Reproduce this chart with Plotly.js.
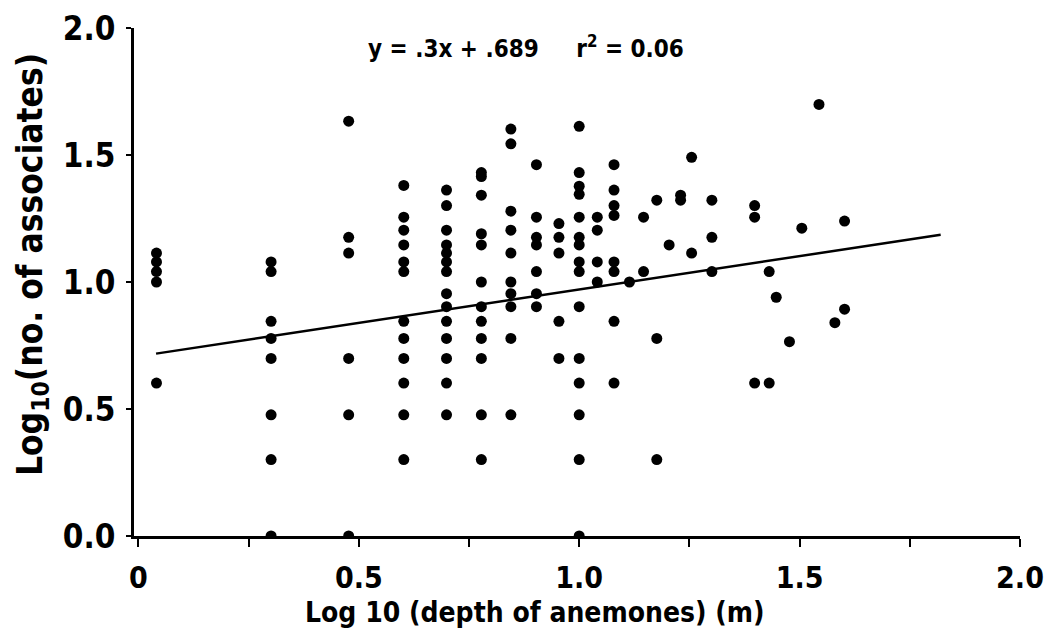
<!DOCTYPE html>
<html>
<head>
<meta charset="utf-8">
<script src="https://cdn.plot.ly/plotly-3.0.1.min.js"></script>
<style>html,body{margin:0;padding:0;background:#fff;}#chart{width:1052px;height:633px;}</style>
</head>
<body>
<div id="chart"></div>
<script>
// Log10 depth of anemones (m) — one entry per column of points
const depthLog = [0.041, 0.301, 0.477, 0.602, 0.699, 0.778, 0.845, 0.903, 0.954, 1.0,
                  1.041, 1.079, 1.114, 1.146, 1.176, 1.204, 1.230, 1.255, 1.301, 1.398,
                  1.431, 1.447, 1.477, 1.505, 1.544, 1.580, 1.602];
// Log10 number of associates for each depth column
const assocLog = [
  [1.114, 1.079, 1.041, 1.0, 0.602],
  [1.079, 1.041, 0.845, 0.778, 0.699, 0.477, 0.301, 0],
  [1.633, 1.176, 1.114, 0.699, 0.477, 0],
  [1.380, 1.255, 1.204, 1.146, 1.079, 1.041, 0.845, 0.778, 0.699, 0.602, 0.477, 0.301],
  [1.362, 1.301, 1.204, 1.146, 1.114, 1.079, 1.041, 0.954, 0.903, 0.845, 0.778, 0.699, 0.602, 0.477],
  [1.431, 1.415, 1.342, 1.190, 1.146, 1.0, 0.903, 0.845, 0.778, 0.699, 0.477, 0.301],
  [1.602, 1.544, 1.279, 1.204, 1.114, 1.0, 0.954, 0.903, 0.778, 0.477],
  [1.462, 1.255, 1.176, 1.146, 1.041, 0.954, 0.903],
  [1.230, 1.176, 1.114, 0.845, 0.699],
  [1.613, 1.431, 1.377, 1.345, 1.255, 1.176, 1.146, 1.079, 1.041, 0.903, 0.699, 0.602, 0.477, 0.301, 0],
  [1.255, 1.204, 1.079, 1.0],
  [1.462, 1.362, 1.301, 1.262, 1.079, 1.041, 0.845, 0.602],
  [1.0],
  [1.255, 1.041],
  [1.322, 0.778, 0.301],
  [1.146],
  [1.342, 1.322],
  [1.491, 1.114],
  [1.322, 1.176, 1.041],
  [1.301, 1.255, 0.602],
  [1.041, 0.602],
  [0.940],
  [0.765],
  [1.212],
  [1.699],
  [0.840],
  [1.240, 0.893]
];
// Fitted line end points as drawn
const fitX = [0.04, 1.82];
const fitY = [0.718, 1.186];
const xTickVals = [0, 0.5, 1.0, 1.5, 2.0];
const xTickText = ['0', '0.5', '1.0', '1.5', '2.0'];
const xMinorVals = [0.25, 0.75, 1.25, 1.75];
const yTickVals = [0, 0.5, 1.0, 1.5, 2.0];
const yTickText = ['0.0', '0.5', '1.0', '1.5', '2.0'];
const equationText = 'y = .3x + .689     r<sup>2</sup> = 0.06';
const xTitle = 'Log 10 (depth of anemones) (m)';
const yTitle = 'Log<sub>10</sub>(no. of associates)';

const px = [], py = [];
depthLog.forEach((d, i) => assocLog[i].forEach(v => { px.push(d); py.push(v); }));

const FAM = '"DejaVu Sans Condensed", "DejaVu Sans", sans-serif';

const traces = [
  {x: px, y: py, type: 'scatter', mode: 'markers',
   marker: {color: '#000', size: 11}, hoverinfo: 'x+y', showlegend: false},
  {x: fitX, y: fitY, type: 'scatter', mode: 'lines',
   line: {color: '#000', width: 2.5}, showlegend: false}
];

const layout = {
  width: 1052, height: 633,
  paper_bgcolor: '#fff', plot_bgcolor: '#fff',
  margin: {l: 134, r: 32, t: 28, b: 97},
  font: {family: FAM, color: '#000', weight: 'bold'},
  xaxis: {range: [-0.01, 2.0], showgrid: false, zeroline: false,
          showline: true, linecolor: '#000', linewidth: 3,
          ticks: 'outside', ticklen: 8, tickwidth: 2, tickcolor: '#000',
          tickvals: xTickVals, ticktext: xTickText, ticklabelstandoff: 5,
          minor: {tickvals: xMinorVals, ticks: 'outside', ticklen: 8, tickwidth: 2, tickcolor: '#000', showgrid: false},
          tickfont: {family: FAM, size: 30, weight: 'bold', color: '#000'}},
  yaxis: {range: [0, 2.0], showgrid: false, zeroline: false,
          showline: true, linecolor: '#000', linewidth: 3,
          ticks: 'outside', ticklen: 5, tickwidth: 2, tickcolor: '#000',
          tickvals: yTickVals, ticktext: yTickText, ticklabelstandoff: 4,
          tickfont: {family: FAM, size: 33, weight: 'bold', color: '#000'}},
  annotations: [
    {text: equationText, xref: 'x', yref: 'y', x: 0.88, y: 1.925, showarrow: false,
     font: {family: FAM, size: 24, weight: 'bold', color: '#000'}},
    {text: xTitle, xref: 'paper', yref: 'paper', x: (535 - 134) / 886, y: (536 - 612) / 508,
     xanchor: 'center', yanchor: 'middle', showarrow: false,
     font: {family: FAM, size: 28, weight: 'bold', color: '#000'}},
    {text: yTitle, xref: 'paper', yref: 'paper', x: -0.115, y: (536 - 265) / 508,
     xanchor: 'center', yanchor: 'middle', textangle: -90, showarrow: false,
     font: {family: FAM, size: 35, weight: 'bold', color: '#000'}}
  ]
};

Plotly.newPlot('chart', traces, layout, {displayModeBar: false, staticPlot: true});
</script>
</body>
</html>
